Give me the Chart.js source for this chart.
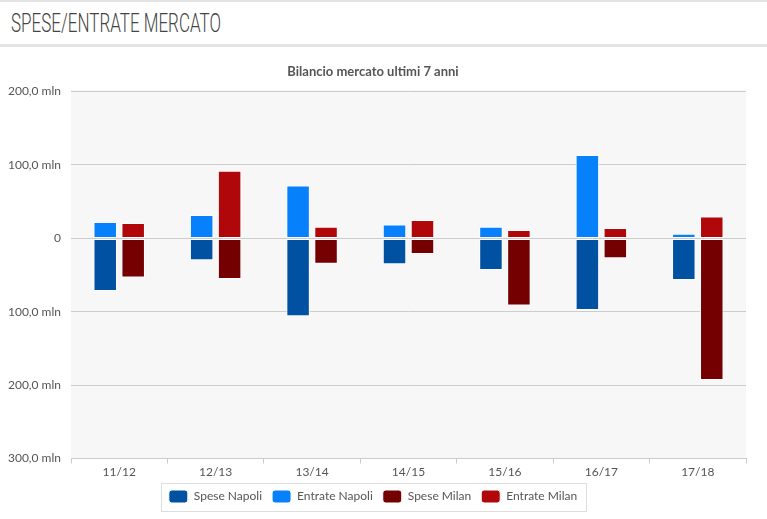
<!DOCTYPE html>
<html>
<head>
<meta charset="utf-8">
<script src="https://cdn.jsdelivr.net/npm/chart.js@4/dist/chart.umd.min.js"></script>
<style>
  html, body { margin: 0; padding: 0; background: #ffffff; width: 767px; height: 519px; overflow: hidden; }
  #header { position: absolute; left: 0; top: 0; width: 767px; height: 42px; border-top: 2px solid #e4e4e4; border-bottom: 3px solid #e4e4e4; }
  #header span { position: absolute; left: 11px; top: 7px; font-family: Roboto, sans-serif; font-weight: 300; font-size: 25px; color: #444; white-space: nowrap; transform: scaleX(0.68); transform-origin: left top; }
  #wrap { position: absolute; left: 0; top: 47px; width: 767px; height: 472px; }
</style>
</head>
<body>
<div id="header"><span>SPESE/ENTRATE MERCATO</span></div>
<div id="wrap"><canvas id="c" width="767" height="472"></canvas></div>
<script>
const categories = ['11/12', '12/13', '13/14', '14/15', '15/16', '16/17', '17/18'];
const speseNapoli = [-71.7, -29.7, -105.9, -35.2, -42.9, -97.7, -56.6];
const entrateNapoli = [22.3, 31.9, 72.1, 18.8, 16.0, 113.7, 6.4];
const speseMilan = [-53.4, -55.3, -34.7, -21.4, -91.3, -27.0, -193.0];
const entrateMilan = [21.0, 92.2, 16.0, 25.1, 11.4, 14.1, 29.7];
const yTicks = [-300, -200, -100, 0, 100, 200];

function fmt(v) {
  if (v === 0) return '0';
  return Math.abs(v).toFixed(1).replace('.', ',') + ' mln';
}

const bgPlugin = {
  id: 'bg',
  beforeDraw(chart) {
    const a = chart.chartArea, ctx = chart.ctx;
    ctx.save();
    ctx.fillStyle = '#f7f7f7';
    ctx.fillRect(a.left, a.top - 2, a.right - a.left, a.bottom - a.top + 2);
    ctx.restore();
  }
};

const legendBox = {
  id: 'legendBox',
  afterDraw(chart) {
    const boxes = chart.legend.legendHitBoxes;
    if (!boxes || !boxes.length) return;
    let minX = Infinity, maxX = -Infinity, minY = Infinity, maxY = -Infinity;
    boxes.forEach(b => {
      minX = Math.min(minX, b.left); maxX = Math.max(maxX, b.left + b.width);
      minY = Math.min(minY, b.top); maxY = Math.max(maxY, b.top + b.height);
    });
    const ctx = chart.ctx;
    ctx.save();
    ctx.strokeStyle = '#dddddd';
    ctx.lineWidth = 1;
    const cy = (minY + maxY) / 2;
    ctx.strokeRect(Math.round(minX - 8) + 0.5, Math.round(cy - 14) + 0.5, Math.round(maxX - minX + 17), 28);
    ctx.restore();
  }
};

const common = { borderColor: '#ffffff', borderWidth: 1, borderSkipped: false, categoryPercentage: 0.58, barPercentage: 0.84 };

new Chart(document.getElementById('c'), {
  type: 'bar',
  data: {
    labels: categories,
    datasets: [
      Object.assign({ label: 'Spese Napoli', data: speseNapoli, backgroundColor: '#0051a1', stack: 'napoli' }, common),
      Object.assign({ label: 'Entrate Napoli', data: entrateNapoli, backgroundColor: '#0681fb', stack: 'napoli' }, common),
      Object.assign({ label: 'Spese Milan', data: speseMilan, backgroundColor: '#740002', stack: 'milan' }, common),
      Object.assign({ label: 'Entrate Milan', data: entrateMilan, backgroundColor: '#b0080a', stack: 'milan' }, common)
    ]
  },
  options: {
    responsive: false,
    devicePixelRatio: 1,
    animation: false,
    layout: { padding: { left: 0, right: 21, top: 0, bottom: 6 } },
    plugins: {
      title: {
        display: true,
        text: 'Bilancio mercato ultimi 7 anni',
        color: '#555555',
        font: { family: 'Lato, "Open Sans", sans-serif', size: 13, weight: 'bold' },
        padding: { top: 17, bottom: 12 }
      },
      legend: {
        position: 'bottom',
        labels: {
          color: '#555555',
          font: { family: 'Lato, "Open Sans", sans-serif', size: 12 },
          boxWidth: 19,
          boxHeight: 13,
          useBorderRadius: true,
          borderRadius: 3,
          padding: 10
        }
      },
      tooltip: { enabled: false }
    },
    scales: {
      x: {
        stacked: true,
        grid: { display: true, drawOnChartArea: false, drawTicks: true, tickLength: 5, color: '#cccccc', offset: true },
        border: { display: true, color: '#cccccc' },
        ticks: { color: '#555555', font: { family: 'Lato, "Open Sans", sans-serif', size: 12 }, padding: 1 }
      },
      y: {
        stacked: true,
        min: -300,
        max: 200,
        afterFit(scale) { scale.width = 71; },
        afterBuildTicks(scale) { scale.ticks = yTicks.map(v => ({ value: v })); },
        grid: { color: '#cccccc', drawTicks: false, lineWidth: 1 },
        border: { display: false },
        ticks: { color: '#555555', font: { family: 'Lato, "Open Sans", sans-serif', size: 12 }, padding: 10, callback: v => fmt(v) }
      }
    }
  },
  plugins: [bgPlugin, legendBox]
});
</script>
</body>
</html>
